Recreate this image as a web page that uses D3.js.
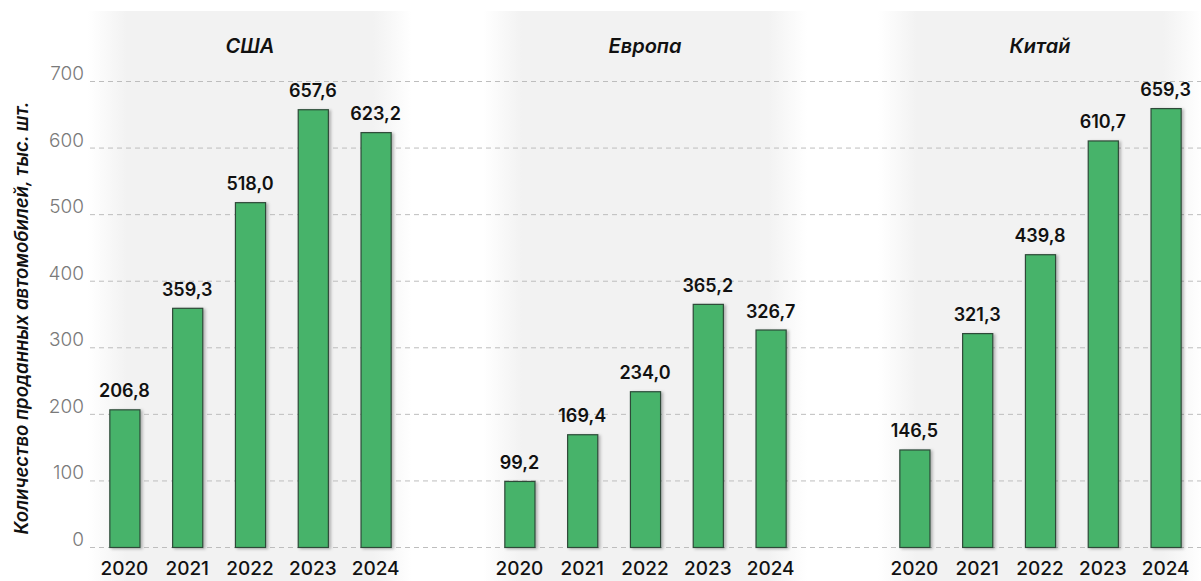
<!DOCTYPE html>
<html>
<head>
<meta charset="utf-8">
<script src="https://cdn.jsdelivr.net/npm/d3@7"></script>
<style>
  html, body { margin: 0; padding: 0; background: #fff; }
  svg { display: block; font-family: Inter, "Open Sans", sans-serif; }
</style>
</head>
<body>
<svg id="chart" width="1201" height="581"></svg>
<script>
// Sales of cars, thousand units, by region and year
const regions = ["США", "Европа", "Китай"];
const years = ["2020", "2021", "2022", "2023", "2024"];
const salesUSA = [206.8, 359.3, 518.0, 657.6, 623.2];
const salesEurope = [99.2, 169.4, 234.0, 365.2, 326.7];
const salesChina = [146.5, 321.3, 439.8, 610.7, 659.3];
const yTicks = [0, 100, 200, 300, 400, 500, 600, 700];
const yTitle = "Количество проданных автомобилей, тыс. шт.";

const seriesByRegion = [salesUSA, salesEurope, salesChina];

const W = 1201, H = 581;
const svg = d3.select("#chart");

const y = d3.scaleLinear().domain([0, 700]).range([547, 81]);
const panelX = d3.scalePoint().domain(regions).range([250, 1040]);
const halfPanel = 157;

const defs = svg.append("defs");
const grad = defs.append("linearGradient").attr("id", "panelFade")
  .attr("x1", "0").attr("x2", "1").attr("y1", "0").attr("y2", "0");
[[0, 0], [0.12, 1], [0.88, 1], [1, 0]].forEach(([o, a]) =>
  grad.append("stop").attr("offset", o).attr("stop-color", "#f2f2f2").attr("stop-opacity", a));

const shadow = defs.append("filter").attr("id", "barShadow")
  .attr("x", "-30%").attr("y", "-10%").attr("width", "160%").attr("height", "120%");
shadow.append("feDropShadow").attr("dx", 2).attr("dy", 1).attr("stdDeviation", 1.6)
  .attr("flood-color", "#000").attr("flood-opacity", 0.28);

// Region backdrops
svg.append("g").selectAll("rect").data(regions).join("rect")
  .attr("x", d => panelX(d) - 162)
  .attr("width", 324)
  .attr("y", 11)
  .attr("height", H - 11)
  .attr("fill", "url(#panelFade)");

// Horizontal grid
const grid = svg.append("g");
grid.selectAll("line").data(yTicks).join("line")
  .attr("x1", 90).attr("x2", W)
  .attr("y1", d => y(d) + 0.5).attr("y2", d => y(d) + 0.5)
  .attr("stroke", "#bdbdbd").attr("stroke-width", 1)
  .attr("stroke-dasharray", "5,4");

// Y tick labels
svg.append("g").selectAll("text").data(yTicks).join("text")
  .attr("x", 84).attr("y", d => y(d))
  .attr("text-anchor", "end").attr("dy", "-0.05em")
  .attr("font-size", 19).attr("font-weight", 300).attr("fill", "#7a7a7a")
  .text(d => d);

// Y title
svg.append("text")
  .attr("transform", `translate(28,318) rotate(-90)`)
  .attr("text-anchor", "middle")
  .attr("font-size", 18.5).attr("font-weight", 600).attr("font-style", "italic")
  .attr("fill", "#111")
  .text(yTitle);

regions.forEach((reg, i) => {
  const c = panelX(reg);
  const x = d3.scaleBand().domain(years).range([c - halfPanel, c + halfPanel]).paddingInner(0.52).paddingOuter(0.26);
  const data = years.map((yr, j) => ({ yr, v: seriesByRegion[i][j] }));
  const g = svg.append("g");

  g.append("text")
    .attr("x", c).attr("y", 53)
    .attr("text-anchor", "middle")
    .attr("font-size", 20).attr("font-weight", 600).attr("font-style", "italic")
    .attr("fill", "#111")
    .text(reg);

  g.selectAll("rect.bar").data(data).join("rect")
    .attr("class", "bar")
    .attr("x", d => x(d.yr) + 0.5)
    .attr("width", x.bandwidth())
    .attr("y", d => y(d.v) + 0.5)
    .attr("height", d => y(0) - y(d.v))
    .attr("fill", "#46b36a")
    .attr("stroke", "#2e4a38").attr("stroke-width", 1.2)
    .attr("filter", "url(#barShadow)");

  g.selectAll("text.val").data(data).join("text")
    .attr("class", "val")
    .attr("x", d => x(d.yr) + x.bandwidth() / 2)
    .attr("y", d => y(d.v) - 12)
    .attr("text-anchor", "middle")
    .attr("font-size", 18).attr("font-weight", 600).attr("fill", "#111")
    .text(d => d3.format(".1f")(d.v).replace(".", ","));

  const xAxis = d3.axisBottom(x).tickSize(0).tickPadding(0);
  const ax = g.append("g").attr("transform", `translate(0,${y(0)})`).call(xAxis);
  ax.select(".domain").remove();
  ax.selectAll("text")
    .attr("dy", 0).attr("y", 28)
    .attr("font-family", "Inter, 'Open Sans', sans-serif")
    .attr("font-size", 19).attr("font-weight", 500).attr("fill", "#111");
});
</script>
</body>
</html>
